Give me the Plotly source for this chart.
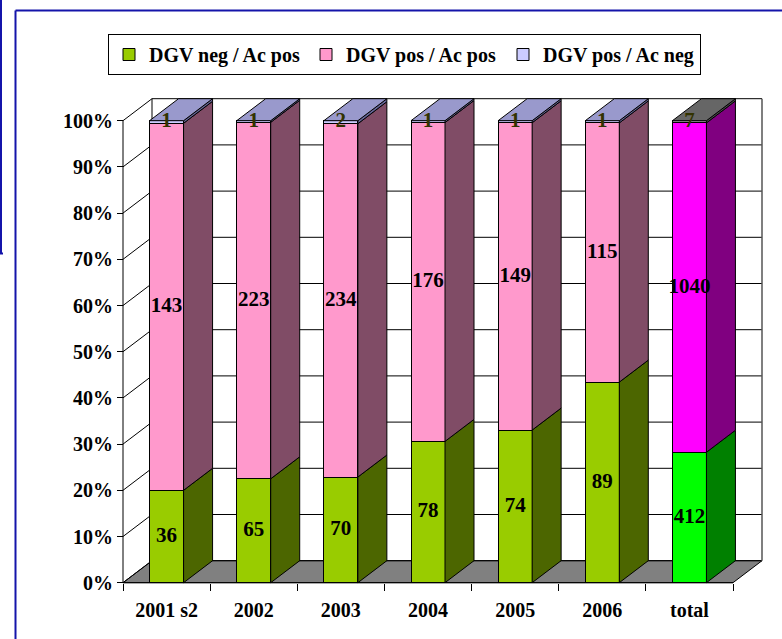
import plotly.graph_objects as go

# ---------------- data ----------------
categories = ["2001 s2", "2002", "2003", "2004", "2005", "2006", "total"]
dgv_neg_ac_pos = [36, 65, 70, 78, 74, 89, 412]
dgv_pos_ac_pos = [143, 223, 234, 176, 149, 115, 1040]
dgv_pos_ac_neg = [1, 1, 2, 1, 1, 1, 7]
series_names = ["DGV neg / Ac pos", "DGV pos / Ac pos", "DGV pos / Ac neg"]
y_tick_values = [0, 10, 20, 30, 40, 50, 60, 70, 80, 90, 100]
y_tick_labels = [f"{v}%" for v in y_tick_values]

# ---------------- styles ----------------
front_colors = [["#99CC00"] * 6 + ["#00FF00"],
                ["#FF99CC"] * 6 + ["#FF00FF"],
                ["#CCCCFF"] * 6 + ["#999999"]]
side_colors = [["#4C6600"] * 6 + ["#008000"],
               ["#804C66"] * 6 + ["#800080"],
               ["#666699"] * 6 + ["#4D4D4D"]]
top_colors = ["#9999CC"] * 6 + ["#666666"]
label_colors = ["black", "black", "#333300"]
FONT = "Liberation Serif"

# ---------------- geometry (pixel layout -> axis ranges) ----------------
W, H = 782, 639
PX_X0, PX_CW = 123.0, 610.0 / 7      # front-left corner, category width
PX_Y0, PX_PCT = 582.7, 4.62          # 0% line, pixels per percent
DEPTH_X_PX, DEPTH_Y_PX = 29.0, 22.0
BAR_PX = 34.0

x_range = [-0.5 - PX_X0 / PX_CW, -0.5 + (W - PX_X0) / PX_CW]
y_range = [-(H - PX_Y0) / PX_PCT, PX_Y0 / PX_PCT]
DX = DEPTH_X_PX / PX_CW
DY = DEPTH_Y_PX / PX_PCT
BW = BAR_PX / PX_CW
n = len(categories)
XL, XR = -0.5, n - 0.5

series = [dgv_neg_ac_pos, dgv_pos_ac_pos, dgv_pos_ac_neg]
totals = [sum(v) for v in zip(*series)]
pct = [[v / t * 100 for v, t in zip(s, totals)] for s in series]

fig = go.Figure()

# front faces (stacked bars)
for k, name in enumerate(series_names):
    fig.add_trace(go.Bar(
        x=list(range(n)), y=pct[k], width=BW, name=name,
        marker=dict(color=front_colors[k], line=dict(color="black", width=1)),
        hoverinfo="skip"))

# side faces and top faces
for i in range(n):
    base = 0.0
    x1 = i + BW / 2
    for k in range(3):
        ya, yb = base, base + pct[k][i]
        fig.add_trace(go.Scatter(
            x=[x1, x1 + DX, x1 + DX, x1, x1],
            y=[ya, ya + DY, yb + DY, yb, ya],
            mode="lines", fill="toself", fillcolor=side_colors[k][i],
            line=dict(color="black", width=1), showlegend=False, hoverinfo="skip"))
        base = yb
    x0 = i - BW / 2
    fig.add_trace(go.Scatter(
        x=[x0, x1, x1 + DX, x0 + DX, x0],
        y=[base, base, base + DY, base + DY, base],
        mode="lines", fill="toself", fillcolor=top_colors[i],
        line=dict(color="black", width=1), showlegend=False, hoverinfo="skip"))

# value labels
for k in range(3):
    mids = []
    for i in range(n):
        below = sum(pct[j][i] for j in range(k))
        mids.append(below + pct[k][i] / 2)
    fig.add_trace(go.Scatter(
        x=list(range(n)), y=mids, mode="text",
        text=[str(v) for v in series[k]],
        textfont=dict(family=FONT, size=21, color=label_colors[k], weight="bold"),
        showlegend=False, hoverinfo="skip"))

# ---------------- walls / floor / grid (chart furniture) ----------------
shapes = []
shapes.append(dict(type="path", layer="below",
                   path=f"M{XL},0 L{XR},0 L{XR + DX},{DY} L{XL + DX},{DY} Z",
                   fillcolor="#808080", line=dict(color="black", width=1)))
for v in y_tick_values:
    shapes.append(dict(type="line", layer="below", x0=XL + DX, x1=XR + DX,
                       y0=v + DY, y1=v + DY, line=dict(color="black", width=1)))
    shapes.append(dict(type="line", layer="below", x0=XL, x1=XL + DX,
                       y0=v, y1=v + DY, line=dict(color="black", width=1)))
shapes.append(dict(type="line", layer="below", x0=XL + DX, x1=XL + DX,
                   y0=DY, y1=100 + DY, line=dict(color="black", width=1)))
shapes.append(dict(type="line", layer="below", x0=XR + DX, x1=XR + DX,
                   y0=DY, y1=100 + DY, line=dict(color="#555555", width=1.5)))
shapes.append(dict(type="line", layer="below", x0=XL, x1=XL,
                   y0=0, y1=100, line=dict(color="black", width=1)))
shapes.append(dict(type="line", layer="above", x0=XL, x1=XR,
                   y0=0, y1=0, line=dict(color="black", width=1)))
# blue frames
shapes.append(dict(type="line", xref="paper", yref="paper",
                   x0=15.5 / W, x1=15.5 / W, y0=1 - 10.5 / H, y1=-0.05,
                   line=dict(color="#1414AA", width=2)))
shapes.append(dict(type="line", xref="paper", yref="paper",
                   x0=15.5 / W, x1=1.05, y0=1 - 10.5 / H, y1=1 - 10.5 / H,
                   line=dict(color="#1414AA", width=2)))
shapes.append(dict(type="path", xref="paper", yref="paper",
                   path=f"M{1 / W},{1.05} L{1 / W},{1 - 253.5 / H} L{3 / W},{1 - 253.5 / H}",
                   line=dict(color="#1414AA", width=2)))

tick_font = dict(family=FONT, size=20, color="black", weight="bold")
fig.update_layout(
    width=W, height=H, margin=dict(l=0, r=0, t=0, b=0),
    paper_bgcolor="white", plot_bgcolor="white",
    barmode="stack", shapes=shapes,
    xaxis=dict(range=x_range, showgrid=False, zeroline=False, showline=False,
               tickmode="array", tickvals=list(range(n)), ticktext=categories,
               ticks="", tickfont=tick_font, anchor="free",
               position=(H - PX_Y0) / H, ticklabelstandoff=13,
               minor=dict(tickmode="array", tickvals=[XL + j for j in range(n + 1)],
                          ticks="outside", ticklen=7, tickcolor="black",
                          tickwidth=1, showgrid=False)),
    yaxis=dict(range=y_range, showgrid=False, zeroline=False, showline=False,
               tickmode="array", tickvals=y_tick_values, ticktext=y_tick_labels,
               ticks="outside", ticklen=6, tickcolor="black", tickwidth=1,
               tickfont=tick_font, anchor="free", position=PX_X0 / W),
    legend=dict(orientation="h", x=108 / W, y=1 - 34 / H, xanchor="left",
                yanchor="top", bgcolor="white", bordercolor="black",
                borderwidth=1, entrywidth=152, entrywidthmode="pixels",
                font=dict(family=FONT, size=20, color="black", weight="bold"),
                traceorder="normal"),
    showlegend=True,
)

fig.write_html("out.html")
